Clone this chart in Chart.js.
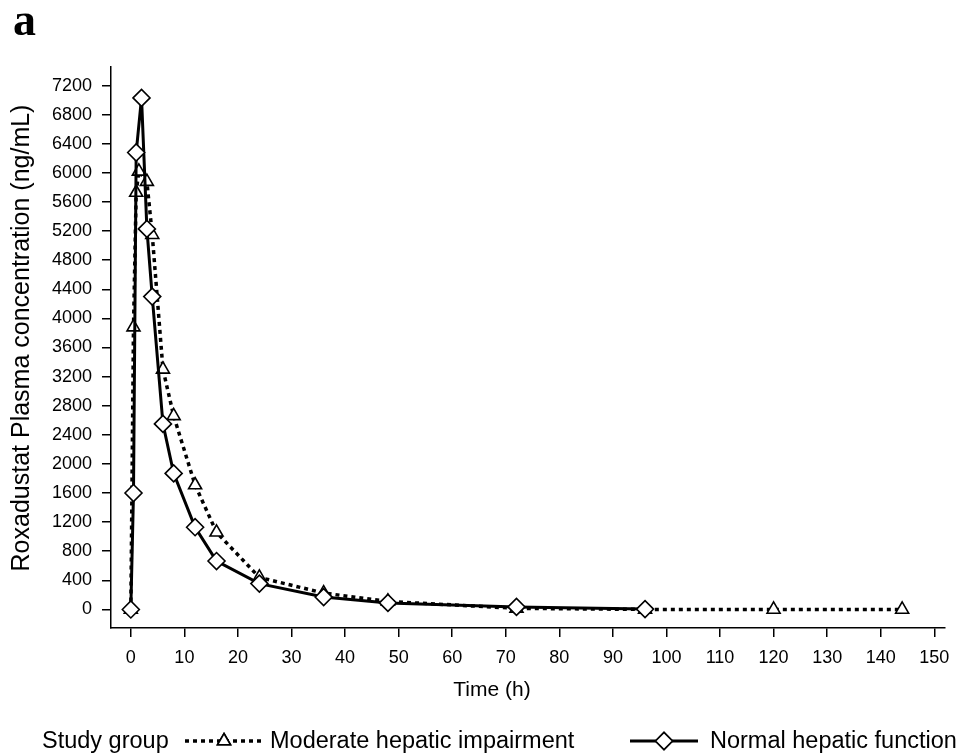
<!DOCTYPE html>
<html>
<head>
<meta charset="utf-8">
<script src="https://cdn.jsdelivr.net/npm/chart.js@4.4.1/dist/chart.umd.min.js"></script>
<style>
  html, body { margin: 0; padding: 0; background: #fff; }
  #wrap { width: 964px; height: 753px; }
</style>
</head>
<body>
<div id="wrap"><canvas id="pk" width="964" height="753"></canvas></div>
<script>
// sampling times (h) and mean concentrations (ng/mL)
const timesNormal = [0, 0.5, 1, 2, 3, 4, 6, 8, 12, 16, 24, 36, 48, 72, 96];
const concNormal = [0, 1600, 6280, 7030, 5230, 4300, 2550, 1870, 1130, 665, 355, 170, 90, 35, 5];

const timesModerate = [0, 0.5, 1, 1.5, 3, 4, 6, 8, 12, 16, 24, 36, 48, 72, 96, 120, 144];
const concModerate = [0, 3880, 5730, 6020, 5880, 5150, 3300, 2660, 1710, 1060, 440, 225, 110, 15, 0, 0, 0];

const xTicks = [0, 10, 20, 30, 40, 50, 60, 70, 80, 90, 100, 110, 120, 130, 140, 150];
const yTicks = [0, 400, 800, 1200, 1600, 2000, 2400, 2800, 3200, 3600, 4000, 4400, 4800, 5200, 5600, 6000, 6400, 6800, 7200];

const xTitle = 'Time (h)';
const yTitle = 'Roxadustat Plasma concentration (ng/mL)';
const legendTitle = 'Study group';
const groupNames = ['Moderate hepatic impairment', 'Normal hepatic function'];

const toPoints = (xs, ys) => xs.map((x, i) => ({ x: x, y: ys[i] }));

const SANS = '"Liberation Sans", Arial, Helvetica, sans-serif';

// titles, panel letter and the legend row are drawn here
const decor = {
  id: 'decor',
  afterDraw(chart) {
    const ctx = chart.ctx;
    ctx.save();
    ctx.fillStyle = '#000';
    ctx.strokeStyle = '#000';

    ctx.font = 'bold 46px "Liberation Serif", "Times New Roman", serif';
    ctx.textAlign = 'left';
    ctx.textBaseline = 'alphabetic';
    ctx.fillText('a', 13, 35);

    ctx.font = '21px ' + SANS;
    ctx.textAlign = 'center';
    ctx.textBaseline = 'middle';
    ctx.fillText(xTitle, 492, 690);

    ctx.save();
    ctx.translate(22, 338);
    ctx.rotate(-Math.PI / 2);
    ctx.font = '25px ' + SANS;
    ctx.fillText(yTitle, 0, 0);
    ctx.restore();

    // legend
    const ly = 741;
    ctx.font = '23.5px ' + SANS;
    ctx.textAlign = 'left';
    ctx.textBaseline = 'alphabetic';
    ctx.fillText(legendTitle, 42, 748);
    ctx.fillText(groupNames[0], 270, 748);
    ctx.fillText(groupNames[1], 710, 748);

    ctx.lineWidth = 3.5;
    ctx.setLineDash([4, 4]);
    ctx.beginPath(); ctx.moveTo(185, ly); ctx.lineTo(263, ly); ctx.stroke();
    ctx.setLineDash([]);
    ctx.lineWidth = 1.6;
    ctx.fillStyle = '#fff';
    Chart.helpers.drawPoint(ctx, { pointStyle: 'triangle', radius: 7.5, borderWidth: 1.6 }, 224, ly);
    ctx.fill(); ctx.stroke();

    ctx.lineWidth = 3;
    ctx.beginPath(); ctx.moveTo(630, ly); ctx.lineTo(698, ly); ctx.stroke();
    ctx.lineWidth = 1.6;
    Chart.helpers.drawPoint(ctx, { pointStyle: 'rectRot', radius: 8.5, borderWidth: 1.6 }, 664, ly);
    ctx.fill(); ctx.stroke();

    ctx.restore();
  }
};

new Chart(document.getElementById('pk'), {
  type: 'line',
  data: {
    datasets: [
      {
        label: groupNames[1],
        data: toPoints(timesNormal, concNormal),
        borderColor: '#000',
        borderWidth: 3,
        pointStyle: 'rectRot',
        pointRadius: 8.5,
        pointBorderWidth: 1.6,
        pointBackgroundColor: '#fff',
        pointBorderColor: '#000',
        tension: 0
      },
      {
        label: groupNames[0],
        data: toPoints(timesModerate, concModerate),
        borderColor: '#000',
        borderWidth: 3.5,
        borderDash: [4, 4],
        pointStyle: 'triangle',
        pointRadius: 7.5,
        pointBorderWidth: 1.6,
        pointBackgroundColor: '#fff',
        pointBorderColor: '#000',
        tension: 0
      }
    ]
  },
  options: {
    responsive: false,
    animation: false,
    devicePixelRatio: 1,
    layout: { padding: { top: 67, right: 19, left: 0, bottom: 0 } },
    plugins: { legend: { display: false }, tooltip: { enabled: false } },
    scales: {
      x: {
        type: 'linear',
        min: -3.7,
        max: 152,
        afterFit: s => { s.height = 125; },
        afterBuildTicks: s => { s.ticks = xTicks.map(v => ({ value: v })); },
        grid: { drawOnChartArea: false, drawTicks: true, tickLength: 9, color: '#000', lineWidth: 1.5 },
        border: { display: true, color: '#000', width: 1.5 },
        ticks: { autoSkip: false, maxRotation: 0, padding: 10, color: '#000', font: { family: SANS, size: 18 },
                 callback: v => String(v) }
      },
      y: {
        type: 'linear',
        min: -255,
        max: 7455,
        afterFit: s => { s.width = 111; },
        afterBuildTicks: s => { s.ticks = yTicks.map(v => ({ value: v })); },
        grid: { drawOnChartArea: false, drawTicks: true, tickLength: 9, color: '#000', lineWidth: 1.5 },
        border: { display: true, color: '#000', width: 1.5 },
        ticks: { autoSkip: false, padding: 10, color: '#000', font: { family: SANS, size: 18 },
                 callback: v => String(v) }
      }
    }
  },
  plugins: [decor]
});
</script>
</body>
</html>
